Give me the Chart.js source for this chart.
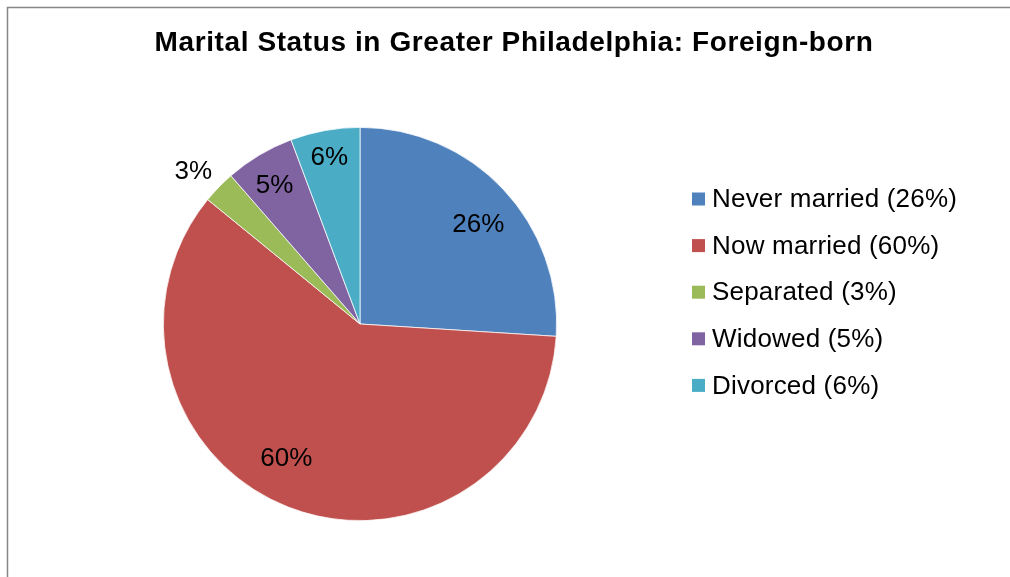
<!DOCTYPE html>
<html>
<head>
<meta charset="utf-8">
<script src="https://cdn.jsdelivr.net/npm/chart.js@4.4.1/dist/chart.umd.min.js"></script>
<style>
    html, body { margin: 0; padding: 0; background: #ffffff; }
    #wrap { width: 1010px; height: 577px; position: relative; }
</style>
</head>
<body>
<div id="wrap"><canvas id="chart" width="1010" height="577"></canvas></div>
<script>
// ========================================
// DATA
// ========================================

const TITLE = 'Marital Status in Greater Philadelphia: Foreign-born';

const categories = ['Never married', 'Now married', 'Separated', 'Widowed', 'Divorced'];
const shares = [26.0, 59.9, 2.7, 5.7, 5.7];          // measured slice sizes (%)
const shareLabels = ['26%', '60%', '3%', '5%', '6%']; // labels as printed

const SLICE_COLORS = ['#4F81BD', '#C0504D', '#9BBB59', '#8064A2', '#4BACC6'];

const FONT = "'Liberation Sans', Arial, sans-serif";

// ========================================
// DRAWING PLUGIN (frame, title, labels, legend)
// ========================================

const decorPlugin = {
    id: 'decor',
    afterDraw(chart, args, opts) {
        const ctx = chart.ctx;
        const W = chart.width, H = chart.height;
        ctx.save();

        // outer frame (only top and left visible)
        ctx.strokeStyle = '#868686';
        ctx.lineWidth = 1.5;
        ctx.beginPath();
        ctx.moveTo(W, 7.5);
        ctx.lineTo(7.5, 7.5);
        ctx.lineTo(7.5, H);
        ctx.stroke();

        // title
        ctx.fillStyle = '#000';
        ctx.font = `bold 28px ${FONT}`;
        ctx.textAlign = 'center';
        ctx.textBaseline = 'middle';
        if ('letterSpacing' in ctx) ctx.letterSpacing = '0.6px';
        ctx.fillText(TITLE, opts.titleX, opts.titleY);
        if ('letterSpacing' in ctx) ctx.letterSpacing = '0px';

        // slice labels
        const meta = chart.getDatasetMeta(0);
        ctx.font = `26px ${FONT}`;
        meta.data.forEach((arc, i) => {
            const p = arc.getProps(['x', 'y', 'startAngle', 'endAngle', 'outerRadius'], true);
            const mid = (p.startAngle + p.endAngle) / 2;
            const r = p.outerRadius * opts.labelRadius[i];
            const [dx, dy] = opts.labelNudge[i];
            const x = p.x + Math.cos(mid) * r + dx;
            const y = p.y + Math.sin(mid) * r + dy;
            ctx.fillText(shareLabels[i], x, y);
        });

        // legend
        ctx.textAlign = 'left';
        if ('letterSpacing' in ctx) ctx.letterSpacing = '0.2px';
        categories.forEach((name, i) => {
            const y = opts.legendY + i * opts.legendGap;
            ctx.fillStyle = SLICE_COLORS[i];
            ctx.fillRect(opts.legendX, y - 6.5, 13, 13);
            ctx.fillStyle = '#000';
            ctx.fillText(`${name} (${shareLabels[i]})`, opts.legendX + 20, y + 1);
        });

        ctx.restore();
    }
};

// ========================================
// CHART
// ========================================

new Chart(document.getElementById('chart').getContext('2d'), {
    type: 'pie',
    data: {
        labels: categories,
        datasets: [{
            data: shares,
            backgroundColor: SLICE_COLORS,
            borderColor: '#ffffff',
            borderWidth: 0.75
        }]
    },
    options: {
        responsive: false,
        animation: false,
        layout: {
            padding: { left: 163, right: 453, top: 127, bottom: 56 }
        },
        plugins: {
            legend: { display: false },
            tooltip: { enabled: false },
            title: { display: false },
            decor: {
                titleX: 514,
                titleY: 43,
                labelRadius: [0.79, 0.79, 1.16, 0.82, 0.85],
                labelNudge: [[5, 7.5], [-17, -10], [-3, 7], [-3, 0], [-1, -1.5]],
                legendX: 692,
                legendY: 199,
                legendGap: 46.6
            }
        }
    },
    plugins: [decorPlugin]
});
</script>
</body>
</html>
